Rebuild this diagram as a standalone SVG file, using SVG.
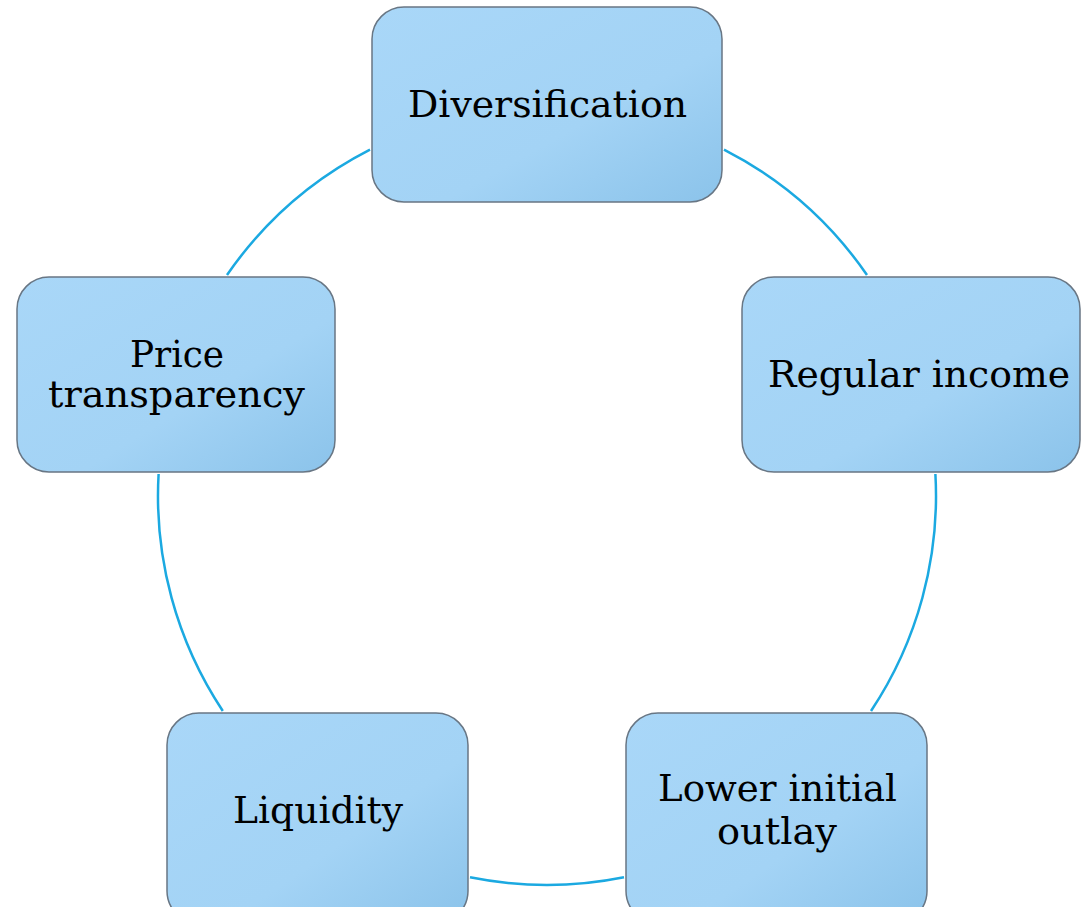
<svg xmlns="http://www.w3.org/2000/svg" width="1081" height="907" viewBox="0 0 1081 907">
  <defs>
    <linearGradient id="boxFill" x1="0" y1="0" x2="1" y2="1">
      <stop offset="0" stop-color="#A9D7F8"/>
      <stop offset="0.6" stop-color="#A3D3F5"/>
      <stop offset="1" stop-color="#8BC3EA"/>
    </linearGradient>
    <style>
      .box { fill: url(#boxFill); stroke: #687684; stroke-width: 1.5; }
      .lbl { font-family: "DejaVu Serif", "Liberation Serif", serif; font-size: 38px; fill: #000; text-anchor: middle; }
      .link { fill: none; stroke: #1BA9E1; stroke-width: 2.5; }
    </style>
  </defs>
  <rect width="1081" height="907" fill="#FFFFFF"/>

  <!-- ring segments joining neighbouring boxes (centre 547,496, r 389) -->
  <g id="connectors">
    <path class="link" d="M724,149.6 A389,389 0 0 1 867,275"/>
    <path class="link" d="M935.4,474 A389,389 0 0 1 871,711"/>
    <path class="link" d="M624,877.3 A389,389 0 0 1 470,877.3"/>
    <path class="link" d="M222.8,711 A389,389 0 0 1 158.6,474"/>
    <path class="link" d="M227,275 A389,389 0 0 1 370,149.6"/>
  </g>

  <g id="node-diversification">
    <rect class="box" x="372" y="7" width="350" height="195" rx="32"/>
    <text class="lbl" x="547.5" y="117" textLength="279" lengthAdjust="spacingAndGlyphs">Diversification</text>
  </g>

  <g id="node-regular-income">
    <rect class="box" x="742" y="277" width="338" height="195" rx="32"/>
    <text class="lbl" x="919" y="387" textLength="302" lengthAdjust="spacingAndGlyphs">Regular income</text>
  </g>

  <g id="node-lower-initial-outlay">
    <rect class="box" x="626" y="713" width="301" height="210" rx="32"/>
    <text class="lbl" x="777.5" y="801" textLength="239" lengthAdjust="spacingAndGlyphs">Lower initial</text>
    <text class="lbl" x="777" y="844" textLength="120" lengthAdjust="spacingAndGlyphs">outlay</text>
  </g>

  <g id="node-liquidity">
    <rect class="box" x="167" y="713" width="301" height="210" rx="32"/>
    <text class="lbl" x="318" y="823" textLength="170" lengthAdjust="spacingAndGlyphs">Liquidity</text>
  </g>

  <g id="node-price-transparency">
    <rect class="box" x="17" y="277" width="318" height="195" rx="32"/>
    <text class="lbl" x="177" y="367" textLength="94" lengthAdjust="spacingAndGlyphs">Price</text>
    <text class="lbl" x="176.5" y="407" textLength="257" lengthAdjust="spacingAndGlyphs">transparency</text>
  </g>
</svg>
